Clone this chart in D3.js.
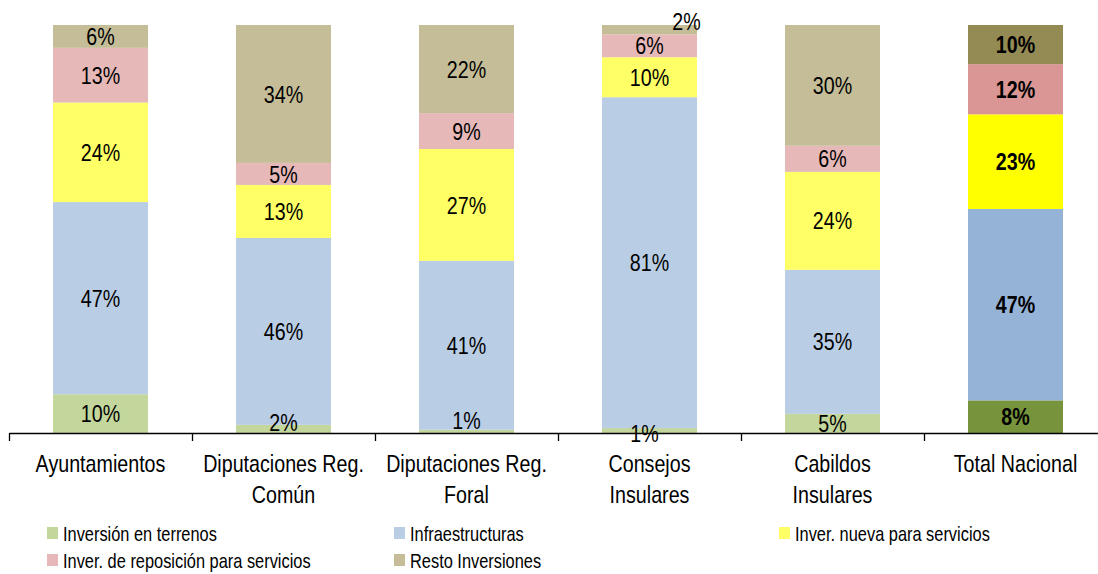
<!DOCTYPE html>
<html>
<head>
<meta charset="utf-8">
<script src="https://cdn.jsdelivr.net/npm/d3@7"></script>
<style>
  body { margin: 0; background: #fff; }
  svg { display: block; font-family: "Liberation Sans", Arial, sans-serif; }
</style>
</head>
<body>
<div id="chart"></div>
<script>
// Categories (two-line labels)
const categories = ["Ayuntamientos", "Diputaciones Reg. Común", "Diputaciones Reg. Foral",
  "Consejos Insulares", "Cabildos Insulares", "Total Nacional"];
const categoryLines = [["Ayuntamientos"], ["Diputaciones Reg.", "Común"], ["Diputaciones Reg.", "Foral"],
  ["Consejos", "Insulares"], ["Cabildos", "Insulares"], ["Total Nacional"]];

// Series values (% of each bar)
const seriesNames = ["Inversión en terrenos", "Infraestructuras", "Inver. nueva para servicios",
  "Inver. de reposición para servicios", "Resto Inversiones"];
const terrenos         = [9.5, 2.0, 0.8, 1.2, 4.7, 8.0];
const infraestructuras = [47.1, 45.8, 41.4, 81.1, 35.3, 46.9];
const nueva            = [24.4, 13.0, 27.4, 9.8, 24.0, 23.2];
const reposicion       = [13.4, 5.4, 8.8, 5.6, 6.4, 12.3];
const resto            = [5.6, 33.8, 21.6, 2.3, 29.6, 9.6];

const W = 1098, H = 574;
const plotTop = 25, plotBottom = 433;
const narrow = 0.82; // the original uses a condensed face

const colors = ["#C3D69B", "#B9CDE5", "#FFFF66", "#E6B9B8", "#C4BD97"];
const totalColors = ["#77933C", "#95B3D7", "#FFFF00", "#D99694", "#948A54"];

// label nudges for the tiny segments (category index, series index) -> [dx, dy]
const labelNudge = {
  "1-0": [0, -7],
  "2-0": [0, -11],
  "3-0": [-5, 3],
  "3-4": [37, -8]
};

const rows = categories.map((c, i) => ({
  cat: c, i: i,
  s0: terrenos[i], s1: infraestructuras[i], s2: nueva[i], s3: reposicion[i], s4: resto[i]
}));

const stack = d3.stack().keys(["s0", "s1", "s2", "s3", "s4"]);
const stacked = stack(rows);
const segments = stacked.flatMap((layer, k) => layer.map(p => ({ p: p, k: k })));

const svg = d3.select("#chart").append("svg")
  .attr("width", W).attr("height", H);

const x = d3.scaleBand().domain(categories).range([9, 9 + 183 * 6]).padding(0);
const barW = 95;
const y = d3.scaleLinear().domain([0, 100]).range([plotBottom, plotTop]);

// Bars
svg.append("g").selectAll("rect")
  .data(segments)
  .enter().append("rect")
  .attr("x", d => x(d.p.data.cat) + x.bandwidth() / 2 - barW / 2)
  .attr("y", d => y(d.p[1]))
  .attr("width", barW)
  .attr("height", d => y(d.p[0]) - y(d.p[1]))
  .attr("fill", d => d.p.data.i === 5 ? totalColors[d.k] : colors[d.k]);

// Axis with ticks at category boundaries
const xEdge = d3.scaleLinear().domain([0, 6]).range([9, 9 + 183 * 6]);
const axis = svg.append("g")
  .attr("transform", `translate(0,${plotBottom})`)
  .call(d3.axisBottom(xEdge).tickValues([0, 1, 2, 3, 4, 5]).tickFormat("").tickSize(8).tickSizeOuter(0));
axis.select(".domain").attr("stroke", "#000").attr("stroke-width", 1.3);
axis.selectAll(".tick line").attr("stroke", "#000").attr("stroke-width", 1.3);

// Value labels (on top of all bars)
svg.append("g").selectAll("text")
  .data(segments)
  .enter().append("text")
  .attr("transform", d => {
    const n = labelNudge[d.p.data.i + "-" + d.k] || [0, 0];
    const cx = x(d.p.data.cat) + x.bandwidth() / 2 + n[0];
    const cy = (y(d.p[0]) + y(d.p[1])) / 2 + n[1];
    return `translate(${cx},${cy}) scale(${narrow},1)`;
  })
  .attr("dy", "0.36em")
  .attr("text-anchor", "middle")
  .attr("font-size", "24px")
  .attr("font-weight", d => d.p.data.i === 5 ? "bold" : "normal")
  .attr("fill", "#000")
  .text(d => Math.round(d.p[1] - d.p[0]) + "%");

// Category labels
const catLabels = svg.selectAll("text.cat")
  .data(categoryLines)
  .enter().append("text")
  .attr("class", "cat")
  .attr("transform", (d, i) => `translate(${x(categories[i]) + x.bandwidth() / 2},472) scale(${narrow},1)`)
  .attr("text-anchor", "middle")
  .attr("font-size", "24px")
  .attr("fill", "#000");

catLabels.selectAll("tspan")
  .data(d => d)
  .enter().append("tspan")
  .attr("x", 0)
  .attr("y", (d, j) => j * 31)
  .text(d => d);

// Legend
const legendPos = [[47, 527], [394, 527], [779, 527], [47, 554], [394, 554]];
const legend = svg.selectAll("g.leg")
  .data(seriesNames)
  .enter().append("g")
  .attr("class", "leg")
  .attr("transform", (d, i) => `translate(${legendPos[i][0]},${legendPos[i][1]})`);

legend.append("rect")
  .attr("width", 11).attr("height", 12)
  .attr("fill", (d, i) => colors[i]);

legend.append("text")
  .attr("transform", `translate(16,14) scale(${narrow},1)`)
  .attr("font-size", "20px")
  .attr("fill", "#000")
  .text(d => d);
</script>
</body>
</html>
